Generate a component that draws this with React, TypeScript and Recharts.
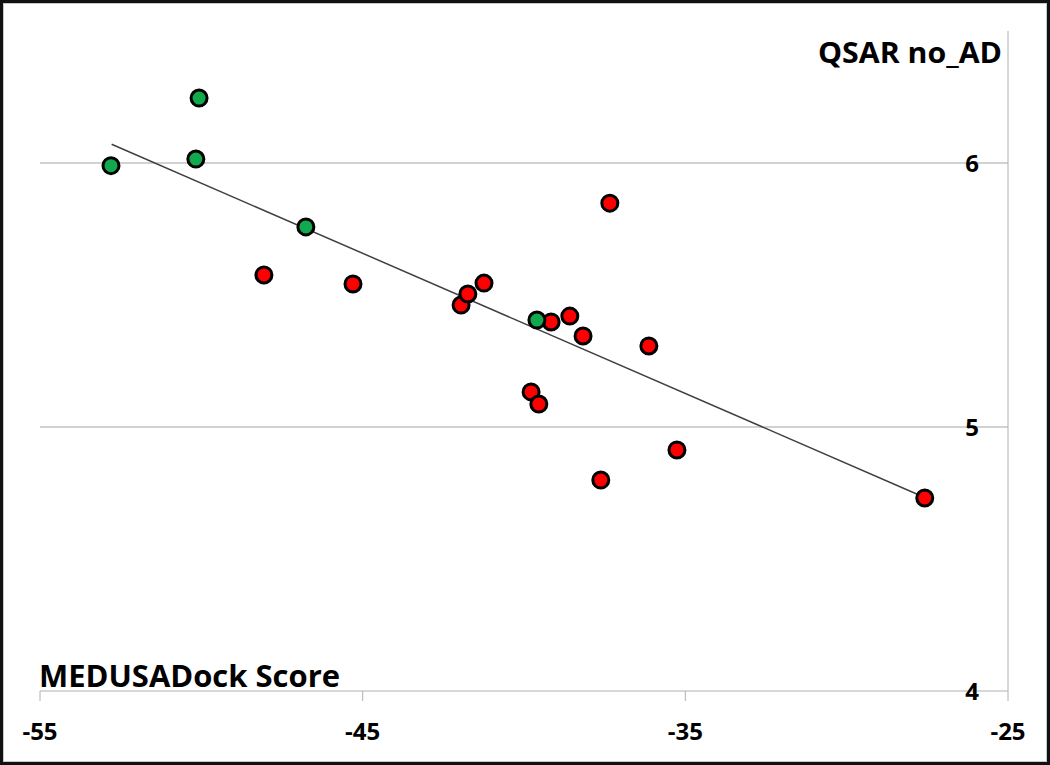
import React from 'react';
import {
  ScatterChart,
  Scatter,
  XAxis,
  YAxis,
  ReferenceLine
} from 'recharts';

// docking score vs QSAR
const greenX = [-52.8, -50.07, -50.17, -46.76, -39.6];
const greenY = [5.99, 6.246, 6.015, 5.758, 5.405];

const redX = [
  -48.06, -45.3, -41.95, -41.74, -41.24, -39.16, -38.58, -38.17, -37.34,
  -36.13, -39.78, -39.54, -37.62, -35.26, -27.58
];
const redY = [
  5.576, 5.542, 5.462, 5.504, 5.545, 5.398, 5.42, 5.345, 5.848, 5.307, 5.133,
  5.087, 4.799, 4.913, 4.731
];

const trendX = [-52.78, -27.58];
const trendY = [6.071, 4.733];

const xTicks = [-55, -45, -35, -25];
const yTicks = [4, 5, 6];
const gridY = [5, 6];

const W = 1050;
const H = 765;
const FONT = '"Open Sans", "DejaVu Sans", sans-serif';

const greenData = greenX.map((x, i) => ({ x, y: greenY[i] }));
const redData = redX.map((x, i) => ({ x, y: redY[i] }));

const Dot = ({ cx, cy, fill }: any) => (
  <circle cx={cx} cy={cy} r={8} fill={fill} stroke="#000" strokeWidth={3} />
);

const XTick = ({ x, y, payload }: any) => (
  <text
    x={x}
    y={y}
    dy={39}
    textAnchor="middle"
    fontFamily={FONT}
    fontWeight={700}
    fontSize={24}
    fill="#000"
  >
    {payload.value}
  </text>
);

const YTick = ({ x, y, payload }: any) => (
  <text
    x={x - 36}
    y={y}
    dy="0.36em"
    textAnchor="middle"
    fontFamily={FONT}
    fontWeight={700}
    fontSize={24}
    fill="#000"
  >
    {payload.value}
  </text>
);

export default function App() {
  return (
    <div
      style={{
        position: 'fixed',
        left: 0,
        top: 0,
        width: W,
        height: H,
        background: '#fff'
      }}
    >
      <ScatterChart
        width={W}
        height={H}
        margin={{ top: 31, right: 0, left: 40, bottom: 34 }}
      >
        {gridY.map((v) => (
          <ReferenceLine
            key={`g-${v}`}
            y={v}
            stroke="#a6a6a6"
            strokeWidth={1.2}
          />
        ))}
        <XAxis
          type="number"
          dataKey="x"
          domain={[-55, -25]}
          ticks={xTicks}
          height={40}
          stroke="#b0b0b0"
          tickSize={10}
          tickMargin={0}
          tick={<XTick />}
          allowDataOverflow
        />
        <YAxis
          type="number"
          dataKey="y"
          orientation="right"
          domain={[4, 6.5]}
          ticks={yTicks}
          width={42}
          stroke="#b0b0b0"
          tickLine={false}
          tickSize={0}
          tickMargin={0}
          tick={<YTick />}
          allowDataOverflow
        />
        <ReferenceLine
          segment={[
            { x: trendX[0], y: trendY[0] },
            { x: trendX[1], y: trendY[1] }
          ]}
          stroke="#404040"
          strokeWidth={1.5}
          ifOverflow="visible"
        />
        <Scatter
          data={redData}
          fill="#ff0000"
          shape={<Dot />}
          isAnimationActive={false}
        />
        <Scatter
          data={greenData}
          fill="#12a84e"
          shape={<Dot />}
          isAnimationActive={false}
        />
      </ScatterChart>
      <svg
        width={W}
        height={H}
        style={{ position: 'absolute', left: 0, top: 0, pointerEvents: 'none' }}
      >
        <text
          x={818}
          y={63}
          fontFamily={FONT}
          fontWeight={700}
          fontSize={29}
          textLength={184}
          lengthAdjust="spacingAndGlyphs"
          fill="#000"
        >
          QSAR no_AD
        </text>
        <text
          x={39}
          y={687}
          fontFamily={FONT}
          fontWeight={700}
          fontSize={30}
          textLength={301}
          lengthAdjust="spacingAndGlyphs"
          fill="#000"
        >
          MEDUSADock Score
        </text>
      </svg>
      <div
        style={{
          position: 'absolute',
          left: 0,
          top: 0,
          width: W,
          height: H,
          boxSizing: 'border-box',
          border: '3px solid #111',
          boxShadow: 'inset 0 0 0 1px #c8c8c8',
          pointerEvents: 'none'
        }}
      />
    </div>
  );
}
